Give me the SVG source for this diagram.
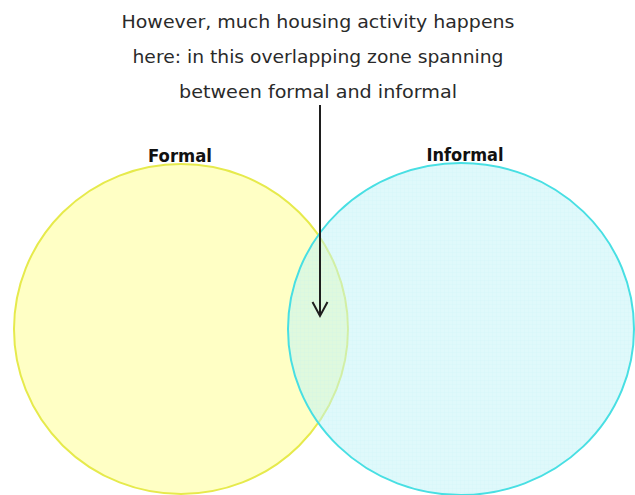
<svg xmlns="http://www.w3.org/2000/svg" width="635" height="495" viewBox="0 0 635 495">
<style>
.cap{font-family:"DejaVu Sans","Liberation Sans",sans-serif;font-size:18px;fill:#2a2a2a;text-anchor:middle}
.lbl{font-family:"DejaVu Sans","Liberation Sans",sans-serif;font-size:17px;font-weight:bold;fill:#111;text-anchor:middle}
.arrow{stroke:#1e1e1e;stroke-width:2;fill:none}
</style>
<defs>
<pattern id="grid" width="4" height="4" patternUnits="userSpaceOnUse">
<path d="M0 0H4M0 0V4" stroke="#b8ecf0" stroke-width="0.6" fill="none"/>
</pattern>
</defs>
<rect width="635" height="495" fill="#ffffff"/>
<g id="formal">
<ellipse cx="181" cy="329" rx="167" ry="165" fill="#ffff8c" fill-opacity="0.5" stroke="#e6ea4c" stroke-width="2"/>
<text class="lbl" x="180" y="162" textLength="64" lengthAdjust="spacingAndGlyphs">Formal</text>
</g>
<g id="informal">
<ellipse cx="461" cy="329" rx="173" ry="166" fill="#bff3f7" fill-opacity="0.5" stroke="#48dfe3" stroke-width="2"/>
<ellipse cx="461" cy="329" rx="172" ry="165" fill="url(#grid)" opacity="0.35"/>
<text class="lbl" x="465" y="161" textLength="77" lengthAdjust="spacingAndGlyphs">Informal</text>
</g>
<g id="caption">
<text class="cap" x="318" y="28" textLength="393" lengthAdjust="spacingAndGlyphs">However, much housing activity happens</text>
<text class="cap" x="318" y="63" textLength="371" lengthAdjust="spacingAndGlyphs">here: in this overlapping zone spanning</text>
<text class="cap" x="318" y="98" textLength="278" lengthAdjust="spacingAndGlyphs">between formal and informal</text>
</g>
<g id="connectors">
<path class="arrow" d="M320 105V316"/>
<path class="arrow" d="M312.5 302L320 316L327.5 302"/>
</g>
</svg>
